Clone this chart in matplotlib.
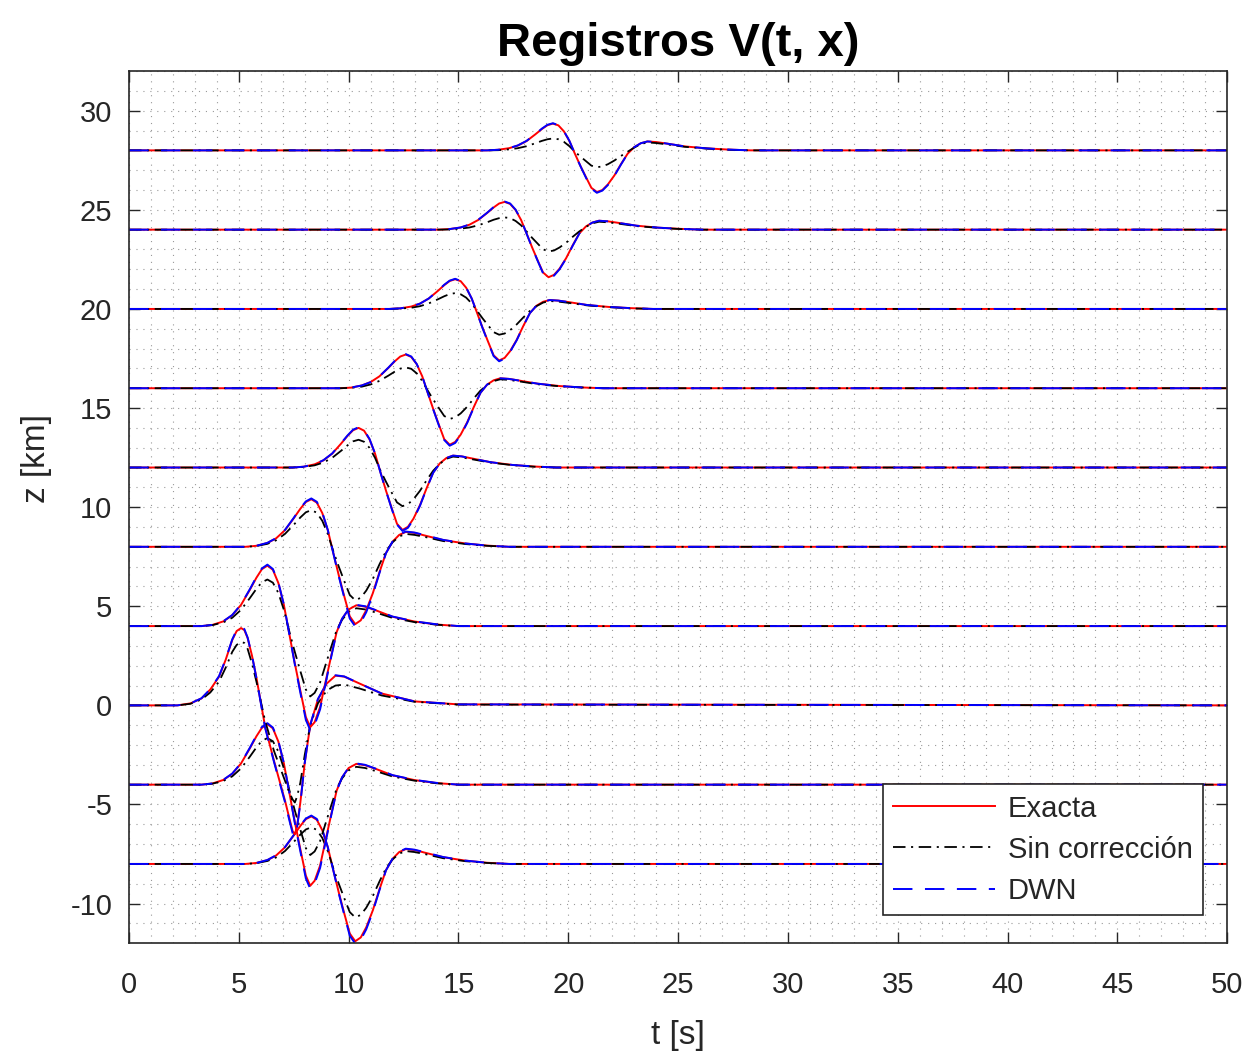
import numpy as np
import matplotlib.pyplot as plt
from matplotlib.ticker import MultipleLocator

plt.rcParams['font.family'] = ['Liberation Sans', 'DejaVu Sans']
plt.rcParams['axes.unicode_minus'] = False
plt.rcParams['lines.scale_dashes'] = False

# posicion de cada receptor [km]; los registros dependen de |z|
z_rec = [-8, -4, 0, 4, 8, 12, 16, 20, 24, 28]

# registros: tiempo [s] y amplitud para cada distancia
t0 = [0, 2.2, 2.8, 3.3, 3.7, 4.1, 4.4, 4.7, 4.9, 5.1, 5.25, 5.4, 5.6, 5.8, 6.2, 6.6, 7.1, 7.3, 7.45, 7.55,
      7.65, 7.8, 8.0, 8.25, 8.6, 9.0, 9.4, 9.8, 10.5, 11.5, 13.0, 15.0, 50]
ex0 = [0, 0, 0.1, 0.35, 0.8, 1.45, 2.3, 3.3, 3.75, 3.9, 3.8, 3.4, 2.5, 1.4, -1.1, -2.8, -4.8, -5.7, -6.35, -6.5,
       -6.1, -4.9, -2.9, -1.0, 0.3, 1.1, 1.5, 1.45, 1.1, 0.6, 0.2, 0.05, 0]
sc0 = [0, 0, 0.08, 0.3, 0.65, 1.2, 1.9, 2.7, 3.05, 3.2, 3.15, 2.85, 2.1, 1.2, -0.8, -2.3, -3.8, -4.4, -4.75, -4.9,
       -4.6, -3.9, -2.5, -1.0, 0.1, 0.75, 1.0, 1.05, 0.85, 0.5, 0.18, 0.04, 0]
dwn0 = [0, 0, 0.1, 0.36, 0.82, 1.48, 2.33, 3.33, 3.8, 3.95, 3.85, 3.42, 2.5, 1.38, -1.15, -2.85, -4.88, -5.8, -6.45, -6.6,
        -6.15, -4.95, -2.9, -0.98, 0.32, 1.12, 1.52, 1.46, 1.1, 0.6, 0.2, 0.05, 0]

t4 = [0, 3.3, 3.8, 4.3, 4.7, 5.1, 5.5, 5.8, 6.05, 6.3, 6.55, 6.8, 7.05, 7.3, 7.55, 7.8, 8.05, 8.25, 8.45, 8.7,
      8.95, 9.2, 9.45, 9.7, 10.0, 10.35, 10.75, 11.25, 12.0, 13.0, 14.0, 15.0, 50]
ex4 = [0, 0, 0.06, 0.24, 0.55, 1.07, 1.83, 2.44, 2.87, 3.05, 2.84, 2.17, 1.07, -0.41, -1.89, -3.26, -4.59, -5.1, -4.85, -4.08,
       -2.8, -1.53, -0.31, 0.37, 0.84, 1.05, 0.98, 0.79, 0.47, 0.23, 0.08, 0, 0]
sc4 = [0, 0, 0.05, 0.19, 0.42, 0.82, 1.41, 1.88, 2.21, 2.35, 2.19, 1.67, 0.82, -0.28, -1.31, -2.27, -3.2, -3.55, -3.37, -2.84,
       -1.95, -1.07, -0.21, 0.32, 0.72, 0.9, 0.84, 0.68, 0.41, 0.2, 0.07, 0, 0]
dwn4 = [0, 0, 0.06, 0.25, 0.56, 1.09, 1.86, 2.48, 2.91, 3.1, 2.88, 2.2, 1.09, -0.42, -1.94, -3.36, -4.73, -5.25, -4.99, -4.2,
        -2.89, -1.58, -0.32, 0.37, 0.86, 1.07, 1.0, 0.8, 0.48, 0.24, 0.09, 0, 0]

t8 = [0, 5.3, 5.8, 6.3, 6.7, 7.1, 7.5, 7.8, 8.05, 8.3, 8.55, 8.8, 9.05, 9.3, 9.55, 9.8, 10.05, 10.3, 10.55, 10.8,
      11.1, 11.4, 11.7, 12.0, 12.3, 12.6, 13.0, 13.5, 14.3, 15.3, 16.3, 17.3, 50]
ex8 = [0, 0, 0.05, 0.19, 0.43, 0.84, 1.44, 1.92, 2.26, 2.4, 2.23, 1.7, 0.84, -0.31, -1.44, -2.5, -3.51, -3.9, -3.71, -3.2,
       -2.34, -1.29, -0.31, 0.26, 0.6, 0.75, 0.7, 0.56, 0.34, 0.17, 0.06, 0, 0]
sc8 = [0, 0, 0.04, 0.15, 0.33, 0.65, 1.11, 1.48, 1.74, 1.85, 1.72, 1.31, 0.65, -0.22, -1.0, -1.73, -2.43, -2.7, -2.57, -2.21,
       -1.62, -0.89, -0.22, 0.23, 0.52, 0.65, 0.6, 0.49, 0.29, 0.14, 0.05, 0, 0]
dwn8 = [0, 0, 0.05, 0.2, 0.44, 0.85, 1.46, 1.95, 2.29, 2.44, 2.27, 1.73, 0.85, -0.32, -1.49, -2.57, -3.62, -4.02, -3.82, -3.3,
        -2.41, -1.33, -0.32, 0.27, 0.62, 0.77, 0.72, 0.58, 0.35, 0.17, 0.06, 0, 0]

t12 = [0, 7.45, 7.95, 8.45, 8.85, 9.25, 9.65, 9.95, 10.2, 10.45, 10.7, 10.95, 11.2, 11.45, 11.7, 11.95, 12.2, 12.45, 12.7,
       12.95, 13.25, 13.55, 13.85, 14.15, 14.45, 14.75, 15.15, 15.65, 16.45, 17.45, 18.45, 19.45, 50]
ex12 = [0, 0, 0.04, 0.16, 0.36, 0.7, 1.2, 1.6, 1.88, 2.0, 1.86, 1.42, 0.7, -0.25, -1.17, -2.02, -2.84, -3.15, -2.99, -2.58,
        -1.89, -1.04, -0.25, 0.21, 0.48, 0.6, 0.56, 0.45, 0.27, 0.13, 0.05, 0, 0]
sc12 = [0, 0, 0.03, 0.11, 0.25, 0.49, 0.84, 1.12, 1.32, 1.4, 1.3, 0.99, 0.49, -0.16, -0.72, -1.25, -1.76, -1.95, -1.85, -1.6,
        -1.17, -0.64, -0.16, 0.19, 0.44, 0.55, 0.51, 0.41, 0.25, 0.12, 0.04, 0, 0]
dwn12 = [0, 0, 0.04, 0.16, 0.37, 0.71, 1.22, 1.62, 1.91, 2.03, 1.89, 1.44, 0.71, -0.26, -1.18, -2.05, -2.88, -3.2, -3.04, -2.62,
         -1.92, -1.06, -0.26, 0.21, 0.48, 0.6, 0.56, 0.45, 0.27, 0.13, 0.05, 0, 0]

t16 = [0, 9.6, 10.1, 10.6, 11.0, 11.4, 11.8, 12.1, 12.35, 12.6, 12.85, 13.1, 13.35, 13.6, 13.85, 14.1, 14.35, 14.6, 14.85,
       15.1, 15.4, 15.7, 16.0, 16.3, 16.6, 16.9, 17.3, 17.8, 18.6, 19.6, 20.6, 21.6, 50]
ex16 = [0, 0, 0.03, 0.14, 0.31, 0.6, 1.02, 1.36, 1.6, 1.7, 1.58, 1.21, 0.6, -0.23, -1.05, -1.82, -2.57, -2.85, -2.71, -2.34,
        -1.71, -0.94, -0.23, 0.18, 0.4, 0.5, 0.47, 0.38, 0.23, 0.11, 0.04, 0, 0]
sc16 = [0, 0, 0.02, 0.08, 0.19, 0.37, 0.63, 0.84, 0.99, 1.05, 0.98, 0.75, 0.37, -0.12, -0.57, -0.99, -1.4, -1.55, -1.47, -1.27,
        -0.93, -0.51, -0.12, 0.16, 0.36, 0.45, 0.42, 0.34, 0.2, 0.1, 0.04, 0, 0]
dwn16 = [0, 0, 0.03, 0.14, 0.31, 0.6, 1.03, 1.38, 1.62, 1.72, 1.6, 1.22, 0.6, -0.23, -1.07, -1.86, -2.61, -2.9, -2.76, -2.38,
         -1.74, -0.96, -0.23, 0.18, 0.4, 0.5, 0.47, 0.38, 0.23, 0.11, 0.04, 0, 0]

t20 = [0, 11.85, 12.35, 12.85, 13.25, 13.65, 14.05, 14.35, 14.6, 14.85, 15.1, 15.35, 15.6, 15.85, 16.1, 16.35, 16.6, 16.85,
       17.1, 17.35, 17.65, 17.95, 18.25, 18.55, 18.85, 19.15, 19.55, 20.05, 20.85, 21.85, 22.85, 23.85, 50]
ex20 = [0, 0, 0.03, 0.12, 0.27, 0.53, 0.9, 1.2, 1.41, 1.5, 1.4, 1.07, 0.53, -0.21, -0.96, -1.66, -2.34, -2.6, -2.47, -2.13,
        -1.56, -0.86, -0.21, 0.16, 0.36, 0.45, 0.42, 0.34, 0.2, 0.1, 0.04, 0, 0]
sc20 = [0, 0, 0.02, 0.06, 0.14, 0.28, 0.48, 0.64, 0.75, 0.8, 0.74, 0.57, 0.28, -0.1, -0.48, -0.83, -1.17, -1.3, -1.24, -1.07,
        -0.78, -0.43, -0.1, 0.14, 0.32, 0.4, 0.37, 0.3, 0.18, 0.09, 0.03, 0, 0]
dwn20 = [0, 0, 0.03, 0.12, 0.27, 0.53, 0.91, 1.22, 1.43, 1.52, 1.41, 1.08, 0.53, -0.21, -0.98, -1.69, -2.38, -2.64, -2.51, -2.16,
         -1.58, -0.87, -0.21, 0.16, 0.36, 0.45, 0.42, 0.34, 0.2, 0.1, 0.04, 0, 0]

t24 = [0, 14.1, 14.6, 15.1, 15.5, 15.9, 16.3, 16.6, 16.85, 17.1, 17.35, 17.6, 17.85, 18.1, 18.35, 18.6, 18.85, 19.1, 19.35,
       19.6, 19.9, 20.2, 20.5, 20.8, 21.1, 21.4, 21.8, 22.3, 23.1, 24.1, 25.1, 26.1, 50]
ex24 = [0, 0, 0.03, 0.11, 0.25, 0.49, 0.84, 1.12, 1.32, 1.4, 1.3, 0.99, 0.49, -0.19, -0.89, -1.54, -2.16, -2.4, -2.28, -1.97,
        -1.44, -0.79, -0.19, 0.16, 0.36, 0.45, 0.42, 0.34, 0.2, 0.1, 0.04, 0, 0]
sc24 = [0, 0, 0.01, 0.05, 0.11, 0.22, 0.37, 0.5, 0.58, 0.62, 0.58, 0.44, 0.22, -0.09, -0.41, -0.7, -0.99, -1.1, -1.05, -0.9,
        -0.66, -0.36, -0.09, 0.14, 0.32, 0.4, 0.37, 0.3, 0.18, 0.09, 0.03, 0, 0]
dwn24 = [0, 0, 0.03, 0.11, 0.26, 0.5, 0.85, 1.14, 1.33, 1.42, 1.32, 1.01, 0.5, -0.2, -0.9, -1.56, -2.2, -2.44, -2.32, -2.0,
         -1.46, -0.81, -0.2, 0.16, 0.36, 0.45, 0.42, 0.34, 0.2, 0.1, 0.04, 0, 0]

t28 = [0, 16.3, 16.8, 17.3, 17.7, 18.1, 18.5, 18.8, 19.05, 19.3, 19.55, 19.8, 20.05, 20.3, 20.55, 20.8, 21.05, 21.3, 21.55,
       21.8, 22.1, 22.4, 22.7, 23.0, 23.3, 23.6, 24.0, 24.5, 25.3, 26.3, 27.3, 28.3, 50]
ex28 = [0, 0, 0.03, 0.11, 0.24, 0.47, 0.81, 1.08, 1.27, 1.35, 1.26, 0.96, 0.47, -0.17, -0.78, -1.34, -1.89, -2.1, -2.0, -1.72,
        -1.26, -0.69, -0.17, 0.16, 0.36, 0.45, 0.42, 0.34, 0.2, 0.1, 0.04, 0, 0]
sc28 = [0, 0, 0.01, 0.05, 0.11, 0.21, 0.36, 0.48, 0.56, 0.6, 0.56, 0.43, 0.21, -0.07, -0.31, -0.54, -0.77, -0.85, -0.81, -0.7,
        -0.51, -0.28, -0.07, 0.14, 0.32, 0.4, 0.37, 0.3, 0.18, 0.09, 0.03, 0, 0]
dwn28 = [0, 0, 0.03, 0.11, 0.25, 0.48, 0.82, 1.1, 1.29, 1.37, 1.27, 0.97, 0.48, -0.17, -0.79, -1.37, -1.93, -2.14, -2.03, -1.75,
         -1.28, -0.71, -0.17, 0.16, 0.36, 0.45, 0.42, 0.34, 0.2, 0.1, 0.04, 0, 0]

registros = {0: (t0, ex0, sc0, dwn0), 4: (t4, ex4, sc4, dwn4), 8: (t8, ex8, sc8, dwn8),
             12: (t12, ex12, sc12, dwn12), 16: (t16, ex16, sc16, dwn16), 20: (t20, ex20, sc20, dwn20),
             24: (t24, ex24, sc24, dwn24), 28: (t28, ex28, sc28, dwn28)}

gris = '#262626'
fig = plt.figure(figsize=(12.6, 10.61), dpi=100)
ax = fig.add_axes([0.1024, 0.111, 0.8716, 0.822])

for i, z in enumerate(z_rec):
    t, ex, sc, dwn = registros[abs(z)]
    ax.plot(t, np.array(ex) + z, color='r', lw=1.4, label='Exacta' if i == 0 else None)
    ax.plot(t, np.array(sc) + z, color='k', lw=1.3, ls=(0, (9, 4, 1.5, 4)),
            label='Sin corrección' if i == 0 else None)
    ax.plot(t, np.array(dwn) + z, color='b', lw=1.4, ls=(0, (14, 9)), label='DWN' if i == 0 else None)

ax.set_xlim(0, 50)
ax.set_ylim(-12, 32)
ax.set_xticks(range(0, 51, 5))
ax.set_yticks(range(-10, 31, 5))
ax.xaxis.set_minor_locator(MultipleLocator(1))
ax.yaxis.set_minor_locator(MultipleLocator(1))
ax.grid(which='both', color='#9a9a9a', lw=0.8, ls=(0, (0.8, 4.2)))
ax.set_axisbelow(True)

ax.tick_params(which='major', direction='in', top=True, right=True, length=8, width=1.0,
               color=gris, labelcolor=gris, labelsize=21)
ax.tick_params(axis='x', pad=20)
ax.tick_params(axis='y', pad=12)
ax.tick_params(which='minor', length=0)
for s in ax.spines.values():
    s.set_color(gris)
    s.set_linewidth(1.2)

ax.set_title('Registros V(t, x)', fontsize=34, fontweight='bold', color='k', pad=11)
ax.set_xlabel('t [s]', fontsize=24, color=gris)
ax.set_ylabel('z [km]', fontsize=24, color=gris)
ax.xaxis.set_label_coords(0.5, -0.088)
ax.yaxis.set_label_coords(-0.07, 0.556)

leg = ax.legend(loc='lower right', bbox_to_anchor=(0.978, 0.0324), fontsize=21, handlelength=3.5,
                handletextpad=0.45, labelspacing=0.45, borderpad=0.35, borderaxespad=0,
                fancybox=False, framealpha=1, edgecolor=gris)
leg.get_frame().set_linewidth(1.2)
for txt in leg.get_texts():
    txt.set_color(gris)

fig.savefig('out.png', dpi=100, facecolor='white')
